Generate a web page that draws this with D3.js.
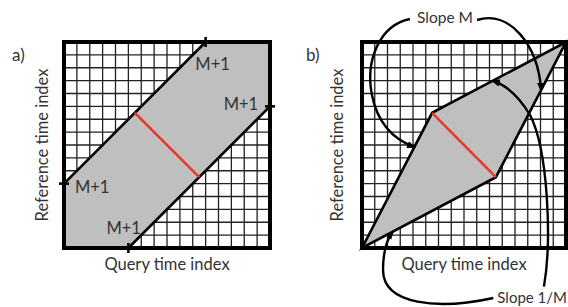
<!DOCTYPE html>
<html>
<head>
<meta charset="utf-8">
<script src="https://cdn.jsdelivr.net/npm/d3@7"></script>
<style>
  body { margin: 0; background: #fff; }
  text { font-family: Lato, "Noto Sans", sans-serif; fill: #333; }
</style>
</head>
<body>
<script>
//grid size (cells per side) and the two constraint shapes, in cell units
var gridCells = 16;
var gridTicks = d3.range(1, 16);

//panel a: Sakoe-Chiba band (two parallel edges)
var bandUpper = [[0, 5], [11, 16]];
var bandLower = [[5, 0], [16, 11]];
var bandFill = [[0, 0], [0, 5], [11, 16], [16, 16], [16, 11], [5, 0]];
var bandLabels = ["M+1", "M+1", "M+1", "M+1"];
var bandLabelAt = [[10.2, 13.8], [12.4, 10.7], [0.85, 4.25], [3.3, 1.1]];

//panel b: Itakura parallelogram
var itakura = [[0, 0], [5.5, 10.5], [16, 16], [10.5, 5.5]];

//red width marker (same in both panels)
var widthLine = [[5.5, 10.5], [10.5, 5.5]];

var panelNames = ["a)", "b)"];
var xTitle = "Query time index";
var yTitle = "Reference time index";
var slopeLabels = ["Slope M", "Slope 1/M"];

//annotation curves for panel b: start, then bezier triples (cell units)
var slopeArrows = [
  [[3.76, 17.79], [1.41, 17.32], [0.24, 14.6], [0.78, 11.88], [1.25, 9.55], [2.59, 8.39], [4.1, 7.84]],
  [[9.02, 17.71], [11.61, 18.49], [13.8, 15.77], [14.05, 12.27]],
  [[10.3, -3.88], [6.0, -4.82], [1.65, -4.43], [1.65, -1.71], [1.65, -0.16], [2.04, 0.78], [2.41, 1.26]],
  [[14.27, -3.0], [14.9, 0.62], [14.59, 7.61], [13.18, 10.33], [12.24, 11.88], [11.29, 12.66], [10.25, 12.99]]
];

var width = 568, height = 307;

var svg = d3.select("body").append("svg")
    .attr("width", width)
    .attr("height", height);

svg.append("defs").append("marker")
    .attr("id", "head")
    .attr("markerUnits", "userSpaceOnUse")
    .attr("viewBox", "0 -5 10 10")
    .attr("refX", 8)
    .attr("refY", 0)
    .attr("markerWidth", 9)
    .attr("markerHeight", 9)
    .attr("orient", "auto")
  .append("path")
    .attr("d", "M0,-4L10,0L0,4Z")
    .attr("fill", "#000");

//draw one panel frame with grid, returns its scales
function drawPanel(x0, x1, y0, y1) {
  var x = d3.scaleLinear().domain([0, gridCells]).range([x0, x1]);
  var y = d3.scaleLinear().domain([0, gridCells]).range([y1, y0]);
  var g = svg.append("g");

  g.append("rect")
      .attr("x", x0).attr("y", y0)
      .attr("width", x1 - x0).attr("height", y1 - y0)
      .attr("fill", "#fff");

  g.selectAll(".vgrid").data(gridTicks).enter().append("line")
      .attr("x1", function(d) { return x(d); })
      .attr("x2", function(d) { return x(d); })
      .attr("y1", y0).attr("y2", y1)
      .attr("stroke", "#222").attr("stroke-width", 1.3);

  g.selectAll(".hgrid").data(gridTicks).enter().append("line")
      .attr("y1", function(d) { return y(d); })
      .attr("y2", function(d) { return y(d); })
      .attr("x1", x0).attr("x2", x1)
      .attr("stroke", "#222").attr("stroke-width", 1.3);

  return { x: x, y: y, g: g };
}

function frame(p) {
  p.g.append("rect")
      .attr("x", p.x(0)).attr("y", p.y(gridCells))
      .attr("width", p.x(gridCells) - p.x(0))
      .attr("height", p.y(0) - p.y(gridCells))
      .attr("fill", "none")
      .attr("stroke", "#000")
      .attr("stroke-width", 4);
}

function titles(p, name, nameX, yTitleX) {
  var cx = (p.x(0) + p.x(gridCells)) / 2,
      cy = (p.y(0) + p.y(gridCells)) / 2;
  svg.append("text").attr("x", cx).attr("y", 270)
      .attr("text-anchor", "middle").attr("font-size", 16.5).text(xTitle);
  svg.append("text")
      .attr("transform", "translate(" + yTitleX + "," + cy + ") rotate(-90)")
      .attr("text-anchor", "middle").attr("font-size", 16.5).text(yTitle);
  svg.append("text").attr("x", nameX).attr("y", 61)
      .attr("font-size", 17).text(name);
}

var line = function(p) {
  return d3.line().x(function(d) { return p.x(d[0]); }).y(function(d) { return p.y(d[1]); });
};

//////// panel a
var pa = drawPanel(64, 270, 42, 248);
pa.g.append("path")
    .attr("d", line(pa)(bandFill) + "Z")
    .attr("fill", "#bfbfbf");
[bandUpper, bandLower].forEach(function(seg) {
  pa.g.append("path")
      .attr("d", line(pa)(seg))
      .attr("fill", "none").attr("stroke", "#000").attr("stroke-width", 2.6);
});
frame(pa);

//little crossing ticks at the band ends
var endTicks = [[bandUpper[0], "h"], [bandUpper[1], "v"], [bandLower[0], "v"], [bandLower[1], "h"]];
endTicks.forEach(function(t) {
  var px = pa.x(t[0][0]), py = pa.y(t[0][1]);
  pa.g.append("line")
      .attr("x1", t[1] == "h" ? px - 5 : px).attr("x2", t[1] == "h" ? px + 5 : px)
      .attr("y1", t[1] == "v" ? py - 5 : py).attr("y2", t[1] == "v" ? py + 5 : py)
      .attr("stroke", "#000").attr("stroke-width", 2.6);
});

pa.g.append("path")
    .attr("d", line(pa)(widthLine))
    .attr("stroke", "#e8392a").attr("stroke-width", 2.6);

pa.g.selectAll(".mlab").data(bandLabels).enter().append("text")
    .attr("x", function(d, i) { return pa.x(bandLabelAt[i][0]); })
    .attr("y", function(d, i) { return pa.y(bandLabelAt[i][1]); })
    .attr("font-size", 16.5)
    .text(function(d) { return d; });

titles(pa, panelNames[0], 12, 48);

//////// panel b
var pb = drawPanel(362, 566, 42, 248);
pb.g.append("path")
    .attr("d", line(pb)(itakura) + "Z")
    .attr("fill", "#bfbfbf")
    .attr("stroke", "#000").attr("stroke-width", 2.6)
    .attr("stroke-linejoin", "miter");
pb.g.append("path")
    .attr("d", line(pb)(widthLine))
    .attr("stroke", "#e8392a").attr("stroke-width", 2.6);
frame(pb);

titles(pb, panelNames[1], 306, 343);

svg.append("text").attr("x", 445).attr("y", 23).attr("text-anchor", "middle")
    .attr("font-size", 15.5).text(slopeLabels[0]);
svg.append("text").attr("x", 567).attr("y", 303).attr("text-anchor", "end")
    .attr("font-size", 15).text(slopeLabels[1]);

slopeArrows.forEach(function(pts) {
  var pth = d3.path();
  pth.moveTo(pb.x(pts[0][0]), pb.y(pts[0][1]));
  for (var i = 1; i + 2 < pts.length; i += 3) {
    pth.bezierCurveTo(pb.x(pts[i][0]), pb.y(pts[i][1]),
                      pb.x(pts[i + 1][0]), pb.y(pts[i + 1][1]),
                      pb.x(pts[i + 2][0]), pb.y(pts[i + 2][1]));
  }
  svg.append("path")
      .attr("d", pth.toString())
      .attr("fill", "none")
      .attr("stroke", "#000")
      .attr("stroke-width", 2.4)
      .attr("marker-end", "url(#head)");
});
</script>
</body>
</html>
